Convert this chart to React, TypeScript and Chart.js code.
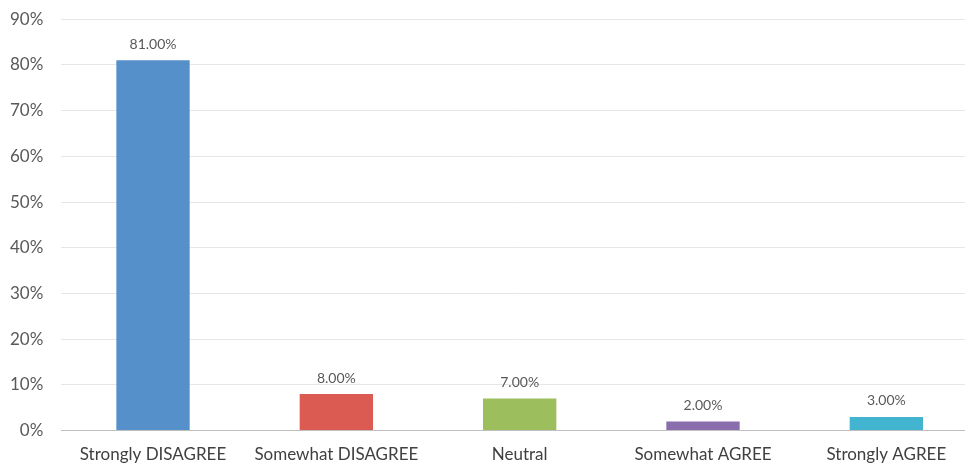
import React, { useEffect, useRef } from "react";
import { Chart, registerables } from "chart.js";

Chart.register(...registerables);

const categories = ["Strongly DISAGREE", "Somewhat DISAGREE", "Neutral", "Somewhat AGREE", "Strongly AGREE"];
const values = [81, 8, 7, 2, 3];
const barColors = ["#5690CB", "#DB5A52", "#9CBE5C", "#8A6DAD", "#42B4CF"];
const yMax = 90;
const yStep = 10;

const FONT = "Lato, 'Open Sans', sans-serif";

const valueLabels = {
  id: "valueLabels",
  afterDatasetsDraw(chart: any) {
    const { ctx } = chart;
    const meta = chart.getDatasetMeta(0);
    ctx.save();
    ctx.font = `14px ${FONT}`;
    ctx.fillStyle = "#595959";
    ctx.textAlign = "center";
    ctx.textBaseline = "bottom";
    meta.data.forEach((bar: any, i: number) => {
      ctx.fillText(values[i].toFixed(2) + "%", bar.x, bar.y - 9);
    });
    ctx.restore();
  },
};

export default function App() {
  const ref = useRef<HTMLCanvasElement>(null);
  useEffect(() => {
    document.body.style.margin = "0";
    const chart = new Chart(ref.current!, {
      type: "bar",
      data: {
        labels: categories,
        datasets: [
          {
            data: values,
            backgroundColor: barColors,
            borderWidth: 0,
            barPercentage: 0.4,
            categoryPercentage: 1,
          },
        ],
      },
      options: {
        animation: false,
        responsive: false,
        maintainAspectRatio: false,
        layout: { padding: { top: 0, left: -8, right: 0, bottom: -11 } },
        plugins: { legend: { display: false }, tooltip: { enabled: false } },
        scales: {
          x: {
            grid: { display: false, drawTicks: false },
            border: { color: "#BFBFBF", width: 1 },
            ticks: { color: "#404040", font: { family: FONT, size: 17 }, padding: 14, maxRotation: 0, autoSkip: false },
          },
          y: {
            min: 0,
            max: yMax,
            grid: { color: "#E6E6E6", drawTicks: false },
            border: { display: false },
            ticks: {
              stepSize: yStep,
              color: "#595959",
              font: { family: FONT, size: 17 },
              padding: 18,
              callback: (v: any) => v + "%",
            },
          },
        },
      },
      plugins: [valueLabels],
    });
    return () => chart.destroy();
  }, []);
  return (
    <div style={{ position: "absolute", left: 0, top: 0, width: 965, height: 468, overflow: "hidden", background: "#fff" }}>
      <canvas ref={ref} width={978} height={477} style={{ display: "block", position: "absolute", left: 0, top: -9 }} />
    </div>
  );
}
